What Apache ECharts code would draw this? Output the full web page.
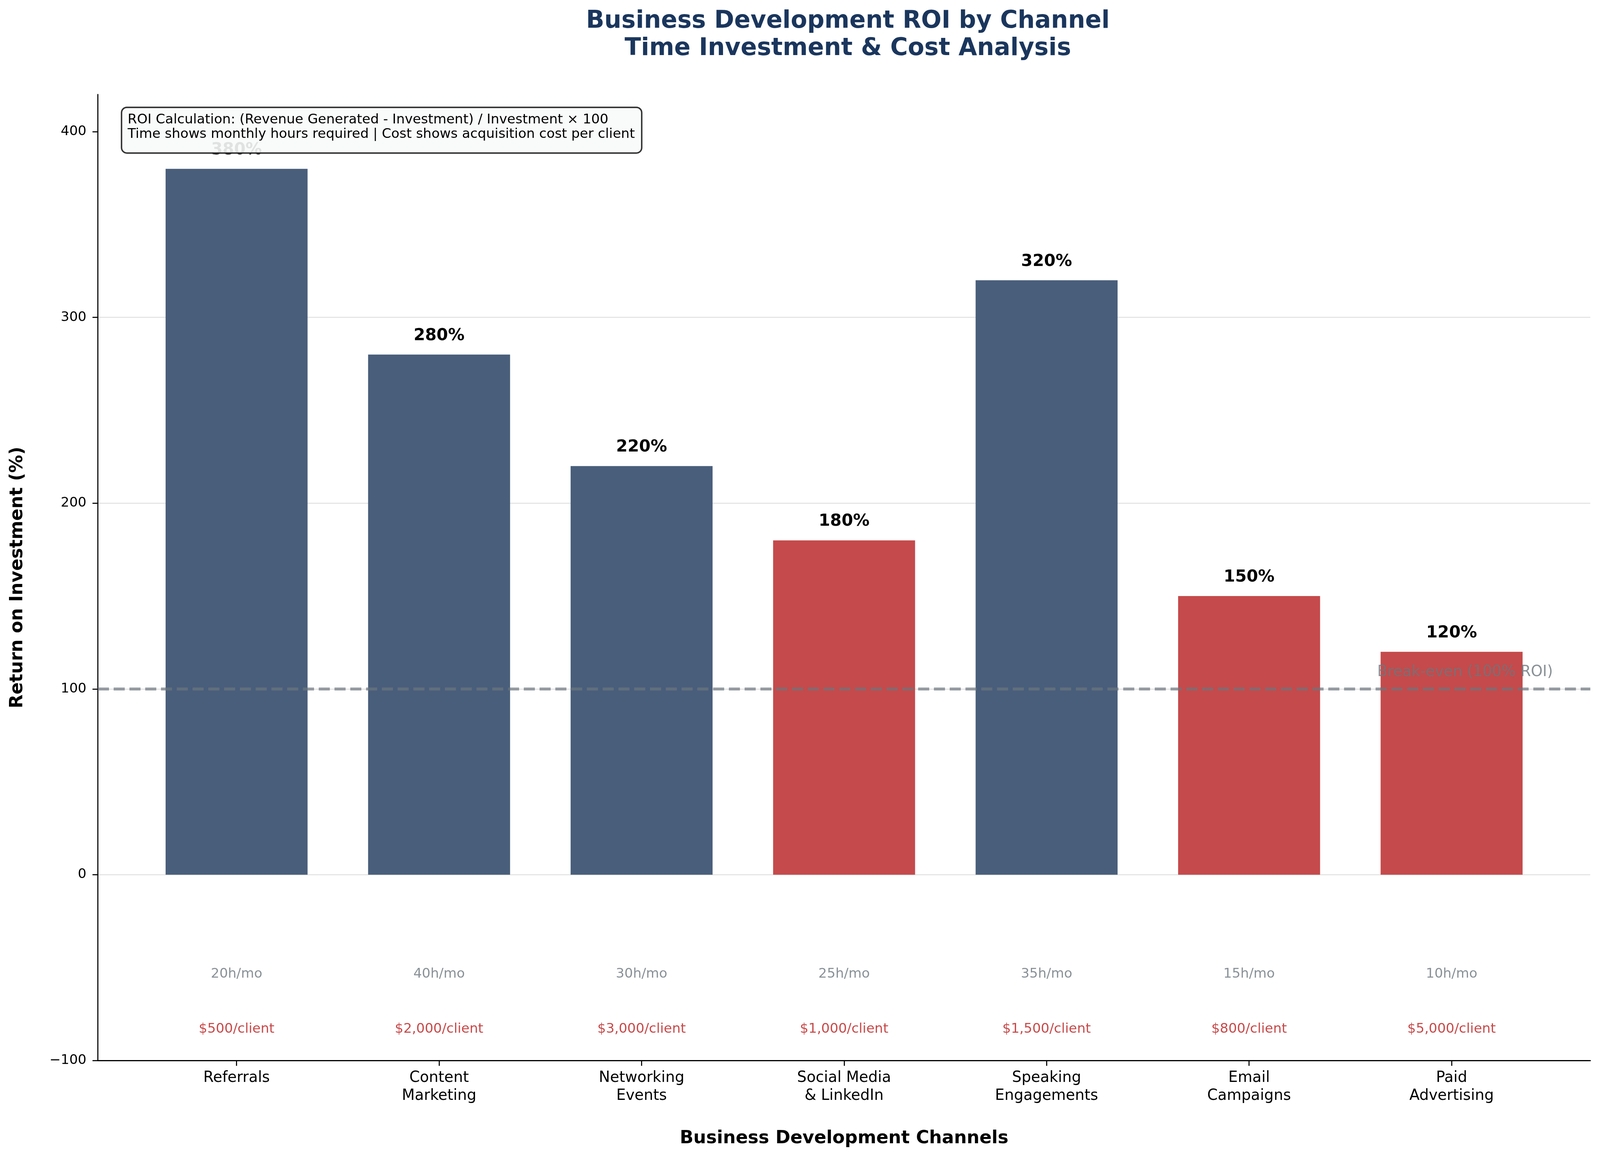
<!DOCTYPE html>
<html>
<head>
<meta charset="utf-8">
<title>Business Development ROI by Channel</title>
<script src="https://cdn.jsdelivr.net/npm/echarts@6/dist/echarts.min.js"></script>
<style>
  html, body { margin: 0; padding: 0; background: #fff; overflow: hidden; }
  #chart { width: 100vw; height: 100vh; }
</style>
</head>
<body>
<div id="chart"></div>
<script>
// values
var channels = ['Referrals', 'Content\nMarketing', 'Networking\nEvents', 'Social Media\n& LinkedIn',
  'Speaking\nEngagements', 'Email\nCampaigns', 'Paid\nAdvertising'];
var roi = [380, 280, 220, 180, 320, 150, 120];
var hours = [20, 40, 30, 25, 35, 15, 10];
var costPerClient = [500, 2000, 3000, 1000, 1500, 800, 5000];
var yTicks = [-100, 0, 100, 200, 300, 400];
var breakEven = 100;
var noteLines = [
  'ROI Calculation: (Revenue Generated - Investment) / Investment \u00d7 100',
  'Time shows monthly hours required | Cost shows acquisition cost per client'
];

var FONT = 'DejaVu Sans';
var NAVY = '#495e7b';
var RED = '#c54a4b';

var idx = channels.map(function (c, i) { return i; });

function money(v) {
  return '$' + v.toLocaleString('en-US') + '/client';
}

var dom = document.getElementById('chart');
var chart = echarts.init(dom);

// layout was measured on a 4463 x 2975 picture; scale to whatever we got
var kx = dom.clientWidth / 4463;
var ky = dom.clientHeight / 2975;
var k = Math.min(kx, ky);
function X(v) { return v * kx; }
function Y(v) { return v * ky; }
function F(v) { return v * k; }

var option = {
  animation: false,
  backgroundColor: '#fff',
  title: {
    text: 'Business Development ROI by Channel\nTime Investment & Cost Analysis',
    left: X(2365),
    top: Y(20),
    padding: 0,
    textAlign: 'center',
    textStyle: { fontFamily: FONT, fontWeight: 'bold', fontSize: F(67), lineHeight: F(76), color: '#1a365d' }
  },
  grid: { left: X(273), right: X(27), top: Y(242), bottom: Y(260), containLabel: false, outerBoundsMode: 'none' },
  xAxis: {
    type: 'value',
    min: -0.685,
    max: 6.685,
    axisLine: { show: true, onZero: false, lineStyle: { color: '#000', width: F(3) } },
    axisTick: { show: true, customValues: idx, length: F(15), lineStyle: { color: '#000', width: F(3) } },
    axisLabel: {
      customValues: idx,
      formatter: function (v) { return channels[Math.round(v)]; },
      margin: Y(22),
      fontFamily: FONT, fontSize: F(41.7), lineHeight: F(50), color: '#000'
    },
    splitLine: { show: false },
    name: 'Business Development Channels',
    nameLocation: 'middle',
    nameGap: Y(177),
    nameTextStyle: { fontFamily: FONT, fontWeight: 'bold', fontSize: F(50), color: '#000' }
  },
  yAxis: {
    type: 'value',
    min: -100,
    max: 420,
    interval: 100,
    axisLine: { show: true, onZero: false, lineStyle: { color: '#000', width: F(3) } },
    axisTick: { show: true, customValues: yTicks, length: F(15), lineStyle: { color: '#000', width: F(3) } },
    axisLabel: {
      customValues: yTicks,
      formatter: function (v) { return v < 0 ? '\u2212' + Math.abs(v) : String(v); },
      margin: X(32),
      fontFamily: FONT, fontSize: F(37.5), color: '#000'
    },
    splitLine: { show: true, showMinLine: false, showMaxLine: false, lineStyle: { color: '#e6e6e6', width: F(3) } },
    name: 'Return on Investment (%)',
    nameLocation: 'middle',
    nameGap: X(199),
    nameTextStyle: { fontFamily: FONT, fontWeight: 'bold', fontSize: F(50), color: '#000' }
  },
  graphic: [
    {
      type: 'rect', left: X(337), top: Y(273), z: 100,
      shape: { width: X(1451), height: Y(117), r: F(15) },
      style: { fill: 'rgba(248,249,250,0.9)', stroke: '#333', lineWidth: F(4) }
    },
    {
      type: 'text', left: X(356), top: Y(288), z: 101,
      style: { text: noteLines.join('\n'), fontFamily: FONT, fontSize: F(37.5), lineHeight: F(41), fill: '#000' }
    }
  ],
  series: [
    {
      type: 'bar',
      z: 2,
      barWidth: X(396),
      data: roi.map(function (v, i) {
        return { value: [i, v], itemStyle: { color: v < 200 ? RED : NAVY } };
      }),
      label: {
        show: true,
        position: 'top',
        distance: Y(27),
        formatter: function (p) { return p.value[1] + '%'; },
        fontFamily: FONT, fontWeight: 'bold', fontSize: F(46), color: '#000'
      }
    },
    {
      // monthly hours under each bar
      type: 'scatter',
      z: 3,
      symbolSize: 0,
      silent: true,
      data: hours.map(function (h, i) { return [i, -53.5]; }),
      label: {
        show: true,
        position: 'inside',
        formatter: function (p) { return hours[p.dataIndex] + 'h/mo'; },
        fontFamily: FONT, fontSize: F(37.5), color: '#6c757d'
      }
    },
    {
      // acquisition cost per client
      type: 'scatter',
      z: 3,
      symbolSize: 0,
      silent: true,
      data: costPerClient.map(function (c, i) { return [i, -83.2]; }),
      label: {
        show: true,
        position: 'inside',
        formatter: function (p) { return money(costPerClient[p.dataIndex]); },
        fontFamily: FONT, fontSize: F(37.5), color: '#b91c1c'
      }
    },
    {
      // break-even line and its note
      type: 'scatter',
      z: 5,
      symbolSize: 0,
      silent: true,
      data: [[6.5, breakEven + 5]],
      label: {
        show: true,
        position: [0, 0],
        align: 'right',
        verticalAlign: 'bottom',
        formatter: 'Break-even (100% ROI)',
        fontFamily: FONT, fontSize: F(41.7), color: '#6c757d'
      },
      markLine: {
        silent: true,
        symbol: 'none',
        label: { show: false },
        lineStyle: { color: '#6c757d', opacity: 0.7, type: [F(31), F(13)], width: F(8.3) },
        data: [{ yAxis: breakEven }]
      }
    }
  ]
};

chart.setOption(option);
</script>
</body>
</html>
